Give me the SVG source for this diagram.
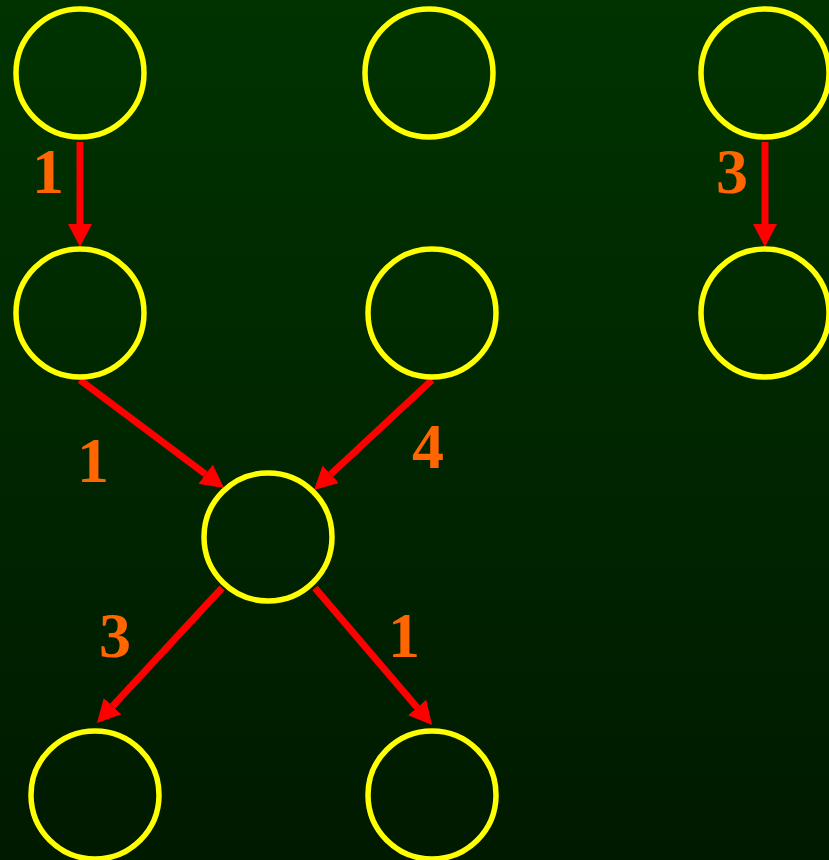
<svg xmlns="http://www.w3.org/2000/svg" width="829" height="860" viewBox="0 0 829 860">
<defs>
<linearGradient id="bg" x1="0" y1="0" x2="0" y2="1">
<stop offset="0" stop-color="#003300"/>
<stop offset="1" stop-color="#001a00"/>
</linearGradient>
<marker id="ah" viewBox="0 -12 23 24" refX="0" refY="0" markerWidth="23" markerHeight="24" markerUnits="userSpaceOnUse" orient="auto">
<path d="M0,-12 L23,0 L0,12 Z" fill="#ff0000"/>
</marker>
<style>
.n{fill:none;stroke:#ffff00;stroke-width:5.5}
.e{stroke:#ff0000;stroke-width:7;fill:none;marker-end:url(#ah)}
.l{font-family:"Liberation Serif","Times New Roman",serif;font-weight:bold;font-size:64px;fill:#ff6600;text-anchor:middle}
</style>
</defs>
<rect width="829" height="860" fill="url(#bg)"/>
<g id="connectors">
<line class="e" x1="80" y1="142" x2="80" y2="224"/>
<line class="e" x1="765" y1="142" x2="765" y2="224"/>
<line class="e" x1="80" y1="380" x2="205.6" y2="474.2"/>
<line class="e" x1="432" y1="380" x2="330.8" y2="474.3"/>
<line class="e" x1="222" y1="588" x2="112.6" y2="706.1"/>
<line class="e" x1="315" y1="588" x2="417.1" y2="707.5"/>
</g>
<g id="labels">
<text class="l" x="48" y="193">1</text>
<text class="l" x="93" y="482">1</text>
<text class="l" x="428" y="468">4</text>
<text class="l" x="115" y="657">3</text>
<text class="l" x="404" y="657">1</text>
<text class="l" x="732" y="193">3</text>
</g>
<g id="nA"><circle class="n" cx="80" cy="73" r="64"/></g>
<g id="nB"><circle class="n" cx="429" cy="73" r="64"/></g>
<g id="nC"><circle class="n" cx="765" cy="73" r="64"/></g>
<g id="nD"><circle class="n" cx="80" cy="313" r="64"/></g>
<g id="nE"><circle class="n" cx="432" cy="313" r="64"/></g>
<g id="nF"><circle class="n" cx="765" cy="313" r="64"/></g>
<g id="nG"><circle class="n" cx="268" cy="537" r="64"/></g>
<g id="nH"><circle class="n" cx="95" cy="795" r="64"/></g>
<g id="nI"><circle class="n" cx="432" cy="795" r="64"/></g>
</svg>
